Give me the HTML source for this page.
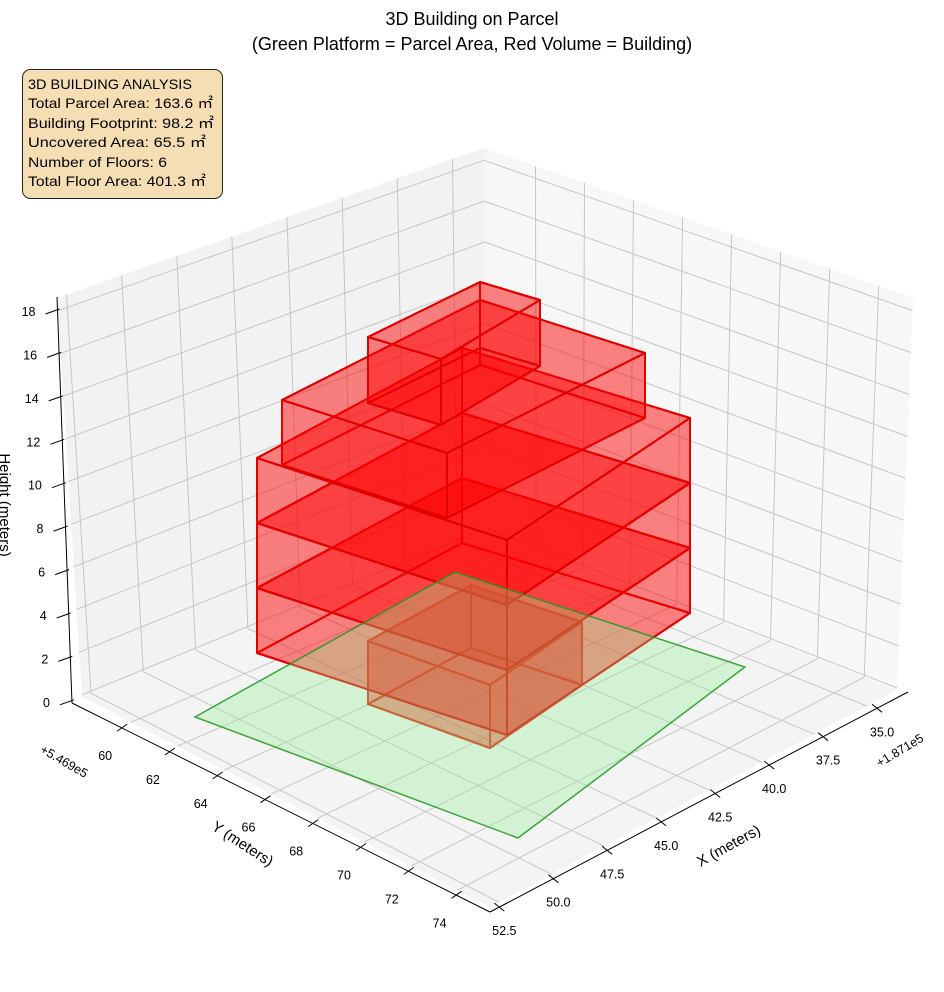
<!DOCTYPE html>
<html><head><meta charset="utf-8">
<style>
html,body{margin:0;padding:0;background:#fff;}
svg{display:block;font-family:"Liberation Sans","Noto Sans CJK SC",sans-serif;}
</style></head>
<body>
<svg id="s" width="944" height="992" viewBox="0 0 944 992" xmlns="http://www.w3.org/2000/svg">
<g id="panes"></g>
<g id="grid"></g>
<g id="axes"></g>
<g id="bld"></g>
<g id="parcel"></g>
<g id="txt" fill="#000">
<text x="472" y="25" font-size="18" text-anchor="middle">3D Building on Parcel</text>
<text x="472" y="50" font-size="18" text-anchor="middle">(Green Platform = Parcel Area, Red Volume = Building)</text>
<rect x="22.5" y="69.5" width="200" height="129" rx="8" fill="#f5deb3" stroke="#222" stroke-width="1"/>
<text x="28" y="89" font-size="14" textLength="164" lengthAdjust="spacingAndGlyphs">3D BUILDING ANALYSIS</text>
<text x="28" y="108" font-size="14" textLength="185" lengthAdjust="spacingAndGlyphs">Total Parcel Area: 163.6 ㎡</text>
<text x="28" y="128" font-size="14" textLength="186" lengthAdjust="spacingAndGlyphs">Building Footprint: 98.2 ㎡</text>
<text x="28" y="147" font-size="14" textLength="178" lengthAdjust="spacingAndGlyphs">Uncovered Area: 65.5 ㎡</text>
<text x="28" y="167" font-size="14" textLength="139" lengthAdjust="spacingAndGlyphs">Number of Floors: 6</text>
<text x="28" y="186" font-size="14" textLength="178" lengthAdjust="spacingAndGlyphs">Total Floor Area: 401.3 ㎡</text>
<text transform="translate(0,505) rotate(90)" font-size="15" text-anchor="middle">Height (meters)</text>
<text transform="translate(240,848) rotate(33)" font-size="15" text-anchor="middle">Y (meters)</text>
<text transform="translate(731,850) rotate(-29)" font-size="15" text-anchor="middle">X (meters)</text>
<text transform="translate(62,765) rotate(30)" font-size="12.5" text-anchor="middle">+5.469e5</text>
<text transform="translate(902,754) rotate(-31)" font-size="12.5" text-anchor="middle">+1.871e5</text>
</g>
</svg>
<script>
(function(){
var NS="http://www.w3.org/2000/svg";
function el(p,t,a){var e=document.createElementNS(NS,t);for(var k in a)e.setAttribute(k,a[k]);document.getElementById(p).appendChild(e);return e;}
var xmin=33.57,xmax=52.93,ymin=57.9,ymax=75.4,zmin=-0.1,zmax=18.6;
var b00=[487,530],b10=[82,697],b01=[897,690],b11=[490,907];
var t00=[484,148],t10=[57,298],t01=[913,298],t11=[490,482];
function bil(a,b,c,d,u,v){return [a[0]*(1-u)*(1-v)+b[0]*u*(1-v)+c[0]*(1-u)*v+d[0]*u*v,a[1]*(1-u)*(1-v)+b[1]*u*(1-v)+c[1]*(1-u)*v+d[1]*u*v];}
function P(x,y,z){var u=(x-xmin)/(xmax-xmin),v=(y-ymin)/(ymax-ymin),w=(z-zmin)/(zmax-zmin);
var p=bil(b00,b10,b01,b11,u,v),q=bil(t00,t10,t01,t11,u,v);return [p[0]*(1-w)+q[0]*w,p[1]*(1-w)+q[1]*w];}
function pts(a){return a.map(function(p){return p[0].toFixed(1)+","+p[1].toFixed(1);}).join(" ");}
el("panes","polygon",{points:pts([P(xmin,ymin,zmin),P(xmax,ymin,zmin),P(xmax,ymin,zmax),P(xmin,ymin,zmax)]),fill:"#f2f2f2"});
el("panes","polygon",{points:pts([P(xmin,ymin,zmin),P(xmin,ymax,zmin),P(xmin,ymax,zmax),P(xmin,ymin,zmax)]),fill:"#f7f7f7"});
el("panes","polygon",{points:pts([P(xmin,ymin,zmin),P(xmax,ymin,zmin),P(xmax,ymax,zmin),P(xmin,ymax,zmin)]),fill:"#f4f4f4"});
var gs={stroke:"#c6c6c6","stroke-width":1,fill:"none"};
function line(g,a,b,st){var o={x1:a[0].toFixed(1),y1:a[1].toFixed(1),x2:b[0].toFixed(1),y2:b[1].toFixed(1)};for(var k in st)o[k]=st[k];return el(g,"line",o);}
var xt=[],yt=[],zt=[];
for(var x=35;x<=52.5;x+=2.5)xt.push(x);
for(var y=60;y<=74;y+=2)yt.push(y);
for(var z=0;z<=18;z+=2)zt.push(z);
xt.forEach(function(x){line("grid",P(x,ymin,zmin),P(x,ymin,zmax),gs);line("grid",P(x,ymin,zmin),P(x,ymax,zmin),gs);});
yt.forEach(function(y){line("grid",P(xmin,y,zmin),P(xmin,y,zmax),gs);line("grid",P(xmin,y,zmin),P(xmax,y,zmin),gs);});
zt.forEach(function(z){line("grid",P(xmin,ymin,z),P(xmax,ymin,z),gs);line("grid",P(xmin,ymin,z),P(xmin,ymax,z),gs);});
var as={stroke:"#000","stroke-width":1};
line("axes",[72,703],[57,297],as);
line("axes",[72,703],[490,912],as);
line("axes",[490,912],[908,692],as);
zt.forEach(function(z){var t=(z-zmin)/(zmax-zmin);var px=72-15*t,py=703-406*t;line("axes",[px-12,py+4],[px+2,py-1],as);
 var t2=el("txt","text",{x:(px-22).toFixed(1),y:(py+6).toFixed(1),"font-size":"12.5","text-anchor":"end"});t2.textContent=z;});
yt.forEach(function(y){var t=(y-ymin)/(ymax-ymin);var px=72+418*t,py=703+209*t;line("axes",[px-5,py+3],[px+5,py-4],as);
 var t2=el("txt","text",{x:(px-17).toFixed(1),y:(py+32).toFixed(1),"font-size":"12.5","text-anchor":"middle"});t2.textContent=y;});
xt.forEach(function(x){var s=(xmax-x)/(xmax-xmin);var px=490+418*s,py=912-220*s;line("axes",[px-5,py-4],[px+5,py+4],as);
 var t2=el("txt","text",{x:(px+5).toFixed(1),y:(py+28).toFixed(1),"font-size":"12.5","text-anchor":"middle"});t2.textContent=x.toFixed(1);});
function box(L,B,R,F,h,fill,stroke){
 var T=[L,B,R,F],D=T.map(function(p){return [p[0],p[1]+h];});
 var faces=[D,[T[0],T[1],D[1],D[0]],[T[1],T[2],D[2],D[1]],[T[2],T[3],D[3],D[2]],[T[3],T[0],D[0],D[3]],T];
 faces.forEach(function(f){el("bld","polygon",{points:pts(f),fill:fill,stroke:stroke,"stroke-width":2,"stroke-linejoin":"round"});});
}
var rf="rgba(255,0,0,0.28)",rs="#e30000";
box([368,641],[471,585],[582,622],[490,685],63,"rgba(235,40,20,0.28)","#dd2a10");
var L=[257,458],B=[462,348],R=[690,418],F=[507,540];
function sh(p,d){return [p[0],p[1]+d];}
box(sh(L,130),sh(B,130),sh(R,130),sh(F,130),65,rf,rs);
box(sh(L,65),sh(B,65),sh(R,65),sh(F,65),65,rf,rs);
box(L,B,R,F,65,rf,rs);
box([282,400],[480,300],[645,353],[447,453],65,rf,rs);
box([368,337],[480,282],[540,300],[441,359],66,rf,rs);
el("parcel","polygon",{points:"195,717 455,572 745,667 518,838",fill:"rgba(144,238,144,0.32)",stroke:"rgba(30,150,30,0.85)","stroke-width":1.5});
})();
</script>
</body></html>
